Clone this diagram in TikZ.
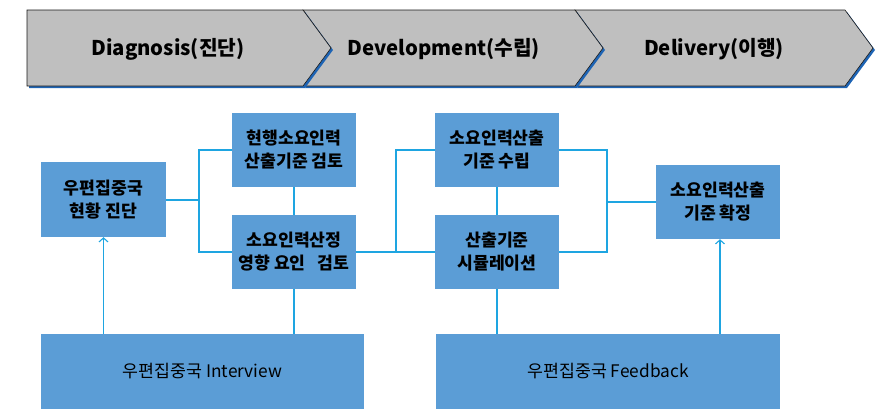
\documentclass[tikz,border=0pt]{standalone}
\usepackage{fontspec}
\setmainfont{Noto Sans CJK KR}
\newfontfamily\kr{Noto Sans CJK KR}
\usetikzlibrary{arrows.meta}
\definecolor{boxblue}{RGB}{91,157,214}
\definecolor{linkblue}{RGB}{30,165,225}
\definecolor{chevgray}{RGB}{191,191,191}
\definecolor{shadowblue}{RGB}{30,100,180}
\definecolor{edgedark}{RGB}{25,25,25}
\tikzset{
  stepbox/.style={fill=boxblue, draw=none, minimum width=124pt, minimum height=74pt, inner sep=0pt, align=center, font=\kr\bfseries\fontsize{17.2}{23}\selectfont},
  widebox/.style={fill=boxblue, draw=none, minimum height=75pt, inner sep=0pt, align=center, font=\kr\fontsize{17.3}{20}\selectfont},
  link/.style={draw=linkblue, line width=1.1pt},
  arrowlink/.style={link, -{Straight Barb[length=4pt,width=9pt,line width=1.1pt]}},
  chev/.style={fill=chevgray, draw=edgedark, line width=0.6pt, line join=miter},
  chevshadow/.style={fill=shadowblue, draw=none},
  chevtext/.style={font=\kr\bfseries\fontsize{20.3}{24}\selectfont, inner sep=0pt}
}
\begin{document}
\begin{tikzpicture}[x=1pt, y=-1pt]
\useasboundingbox (0,0) rectangle (876,416);
% chevrons drawn right to left so each shadow lies on the next
\fill[chevshadow] (577,12) -- (847,12) -- (875,50) -- (847,88) -- (577,88) -- (605,50) -- cycle;
\draw[chev] (575,10) -- (845,10) -- (873,48) -- (845,86) -- (575,86) -- (603,48) -- cycle;
\fill[chevshadow] (305,12) -- (577,12) -- (605,50) -- (577,88) -- (305,88) -- (333,50) -- cycle;
\draw[chev] (303,10) -- (575,10) -- (603,48) -- (575,86) -- (303,86) -- (331,48) -- cycle;
\fill[chevshadow] (29,12) -- (305,12) -- (333,50) -- (305,88) -- (29,88) -- cycle;
\draw[chev] (27,10) -- (303,10) -- (331,48) -- (303,86) -- (27,86) -- cycle;
\node[chevtext] (t1) at (168,49) {Diagnosis(진단)};
\node[chevtext] (t2) at (444,49) {Development(수립)};
\node[chevtext] (t3) at (714,49) {Delivery(이행)};
% boxes
\node[stepbox, minimum width=125pt, minimum height=75pt] (diag) at (103.5,199.5) {우편집중국\\현황 진단};
\node[stepbox] (cur) at (294,150) {현행소요인력\\산출기준 검토};
\node[stepbox] (infl) at (294,252) {소요인력산정\\영향 요인\hspace{0.7em}검토};
\node[stepbox] (est) at (497,150) {소요인력산출\\기준 수립};
\node[stepbox] (sim) at (497,252) {산출기준\\시뮬레이션};
\node[stepbox] (conf) at (718,202) {소요인력산출\\기준 확정};
\node[widebox, minimum width=323pt] (intv) at (202.5,371.5) {우편집중국 Interview};
\node[widebox, minimum width=344pt] (fb) at (608,371.5) {우편집중국 Feedback};
% junctions
\coordinate (j1) at (199,200);
\coordinate (j1t) at (199,150);
\coordinate (j1b) at (199,252);
\coordinate (j2t) at (396,150);
\coordinate (j2b) at (396,252);
\coordinate (j3t) at (607,150);
\coordinate (j3b) at (607,252);
\coordinate (j3) at (607,202);
% connectors
\draw[link] (diag.east |- j1) -- (j1);
\draw[link] (cur.west) -- (j1t) -- (j1b) -- (infl.west);
\draw[link] (cur.south) -- (infl.north);
\draw[link] (infl.east) -- (j2b) -- (sim.west);
\draw[link] (j2b) -- (j2t) -- (est.west);
\draw[link] (est.south) -- (sim.north);
\draw[link] (est.east) -- (j3t) -- (j3b) -- (sim.east);
\draw[link] (j3) -- (conf.west);
\draw[arrowlink] (diag.south |- intv.north) -- (diag.south);
\draw[link] (infl.south |- intv.north) -- (infl.south);
\draw[link] (sim.south |- fb.north) -- (sim.south);
\draw[arrowlink] ([xshift=2pt]conf.south |- fb.north) -- ([xshift=2pt]conf.south);
\end{tikzpicture}
\end{document}
